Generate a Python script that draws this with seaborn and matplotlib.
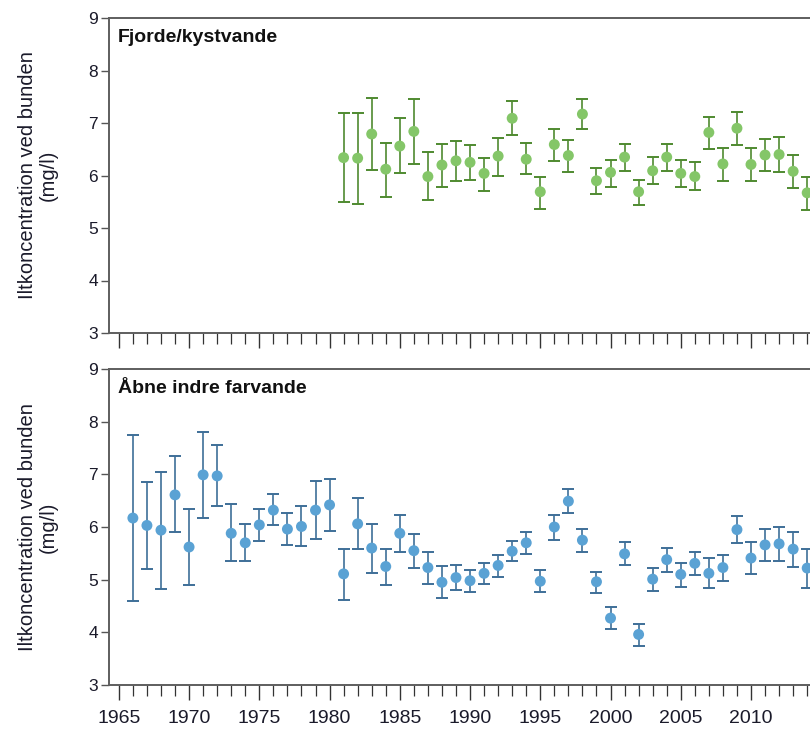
import numpy as np
import pandas as pd
import matplotlib
matplotlib.use("Agg")
import matplotlib.pyplot as plt
from matplotlib.ticker import MultipleLocator
import seaborn as sns

# ---------------- data ----------------
fjord_years = list(range(1981, 2015))
fjord_mean = [6.34, 6.33, 6.79, 6.12, 6.56, 6.84, 5.98, 6.20, 6.28, 6.25,
              6.04, 6.37, 7.09, 6.31, 5.69, 6.59, 6.38, 7.17, 5.90, 6.06,
              6.35, 5.69, 6.09, 6.35, 6.04, 5.98, 6.82, 6.22, 6.90, 6.21,
              6.39, 6.40, 6.08, 5.67]
fjord_hi = [7.19, 7.19, 7.48, 6.61, 7.09, 7.46, 6.45, 6.60, 6.65, 6.58,
            6.34, 6.72, 7.42, 6.61, 5.97, 6.88, 6.68, 7.46, 6.14, 6.30,
            6.60, 5.91, 6.35, 6.60, 6.30, 6.25, 7.11, 6.53, 7.21, 6.53,
            6.70, 6.74, 6.39, 5.97]
fjord_lo = [5.50, 5.46, 6.10, 5.60, 6.04, 6.21, 5.53, 5.79, 5.89, 5.91,
            5.70, 6.00, 6.78, 6.02, 5.37, 6.28, 6.07, 6.88, 5.65, 5.79,
            6.09, 5.44, 5.83, 6.09, 5.79, 5.73, 6.51, 5.90, 6.58, 5.90,
            6.08, 6.06, 5.76, 5.34]

open_years = list(range(1966, 2015))
open_mean = [6.17, 6.03, 5.94, 6.61, 5.62, 6.99, 6.97, 5.88, 5.70, 6.04,
             6.32, 5.96, 6.01, 6.32, 6.42, 5.11, 6.06, 5.60, 5.25, 5.88,
             5.55, 5.23, 4.95, 5.04, 4.98, 5.12, 5.27, 5.54, 5.70, 4.97,
             6.00, 6.49, 5.75, 4.96, 4.27, 5.49, 3.96, 5.01, 5.38, 5.10,
             5.31, 5.12, 5.23, 5.95, 5.41, 5.66, 5.68, 5.58, 5.22]
open_hi = [7.75, 6.85, 7.04, 7.34, 6.35, 7.80, 7.56, 6.43, 6.06, 6.35,
           6.62, 6.27, 6.39, 6.87, 6.92, 5.59, 6.56, 6.06, 5.59, 6.22,
           5.87, 5.53, 5.26, 5.28, 5.18, 5.32, 5.47, 5.73, 5.91, 5.18,
           6.23, 6.72, 5.97, 5.15, 4.49, 5.72, 4.16, 5.22, 5.61, 5.32,
           5.53, 5.41, 5.47, 6.20, 5.71, 5.96, 6.00, 5.90, 5.58]
open_lo = [4.59, 5.20, 4.83, 5.90, 4.90, 6.18, 6.39, 5.35, 5.35, 5.73,
           6.04, 5.65, 5.63, 5.78, 5.92, 4.61, 5.59, 5.12, 4.90, 5.53,
           5.23, 4.92, 4.65, 4.80, 4.77, 4.91, 5.06, 5.35, 5.49, 4.77,
           5.76, 6.27, 5.53, 4.75, 4.06, 5.27, 3.75, 4.79, 5.14, 4.87,
           5.08, 4.84, 4.97, 5.70, 5.10, 5.35, 5.35, 5.25, 4.85]

panel_titles = ["Fjorde/kystvande", "Åbne indre farvande"]
ylabel = "Iltkoncentration ved bunden\n(mg/l)"

# ---------------- style ----------------
sns.set_theme(style="white")
plt.rcParams["font.family"] = ["Liberation Sans", "DejaVu Sans"]

spine_col = "#5e5e5e"
W, H = 810, 729
fig = plt.figure(figsize=(W / 100, H / 100), dpi=100)

def make_ax(top_px, bot_px):
    left = 109 / W
    return fig.add_axes([left, 1 - bot_px / H, 1 - left, (bot_px - top_px) / H])

ax1 = make_ax(18, 333)
ax2 = make_ax(369, 685)

panels = [
    (ax1, fjord_years, fjord_mean, fjord_lo, fjord_hi, "#84c668", "#4f8a30"),
    (ax2, open_years, open_mean, open_lo, open_hi, "#5aa2d4", "#3e6f98"),
]

for i, (ax, yrs, m, lo, hi, dot, bar) in enumerate(panels):
    df = pd.DataFrame({"year": yrs, "mean": m, "lo": lo, "hi": hi})
    yerr = np.vstack([df["mean"] - df["lo"], df["hi"] - df["mean"]])
    ax.errorbar(df["year"], df["mean"], yerr=yerr, fmt="none",
                ecolor=bar, elinewidth=1.2, capsize=4.3, capthick=1.4, zorder=2)
    sns.scatterplot(data=df, x="year", y="mean", ax=ax, color=dot, s=62,
                    edgecolor="none", linewidth=0, zorder=3, legend=False)
    ax.set_xlim(1964.3, 2014.2)
    ax.set_ylim(3, 9)
    ax.set_yticks(range(3, 10))
    ax.xaxis.set_major_locator(MultipleLocator(5))
    ax.xaxis.set_minor_locator(MultipleLocator(1))
    ax.tick_params(axis="x", which="major", direction="out", length=11, width=1,
                   color="#333333", bottom=True, labelsize=14, pad=7,
                   labelcolor="#1a1a2a")
    ax.tick_params(axis="x", which="minor", direction="out", length=8, width=0.9,
                   color="#333333", bottom=True)
    ax.tick_params(axis="y", which="major", direction="out", length=6, width=1,
                   color="#555555", left=True, labelsize=12.5, pad=2,
                   labelcolor="#1a1a2a")
    for s in ["left", "top", "bottom"]:
        ax.spines[s].set_visible(True)
        ax.spines[s].set_color(spine_col)
        ax.spines[s].set_linewidth(1.4)
    ax.spines["right"].set_visible(False)
    ax.set_xlabel("")
    ax.set_ylabel(ylabel, fontsize=14.5, labelpad=22, linespacing=1.1,
                  color="#1a1a2a")
    ax.text(0.013, 0.965, panel_titles[i], transform=ax.transAxes,
            fontsize=14, fontweight="bold", ha="left", va="top",
            color="#111111")
    ax.grid(False)

ax1.tick_params(axis="x", labelbottom=False)
ax2.set_xticks(range(1965, 2015, 5))

fig.savefig("out.png", dpi=100)
